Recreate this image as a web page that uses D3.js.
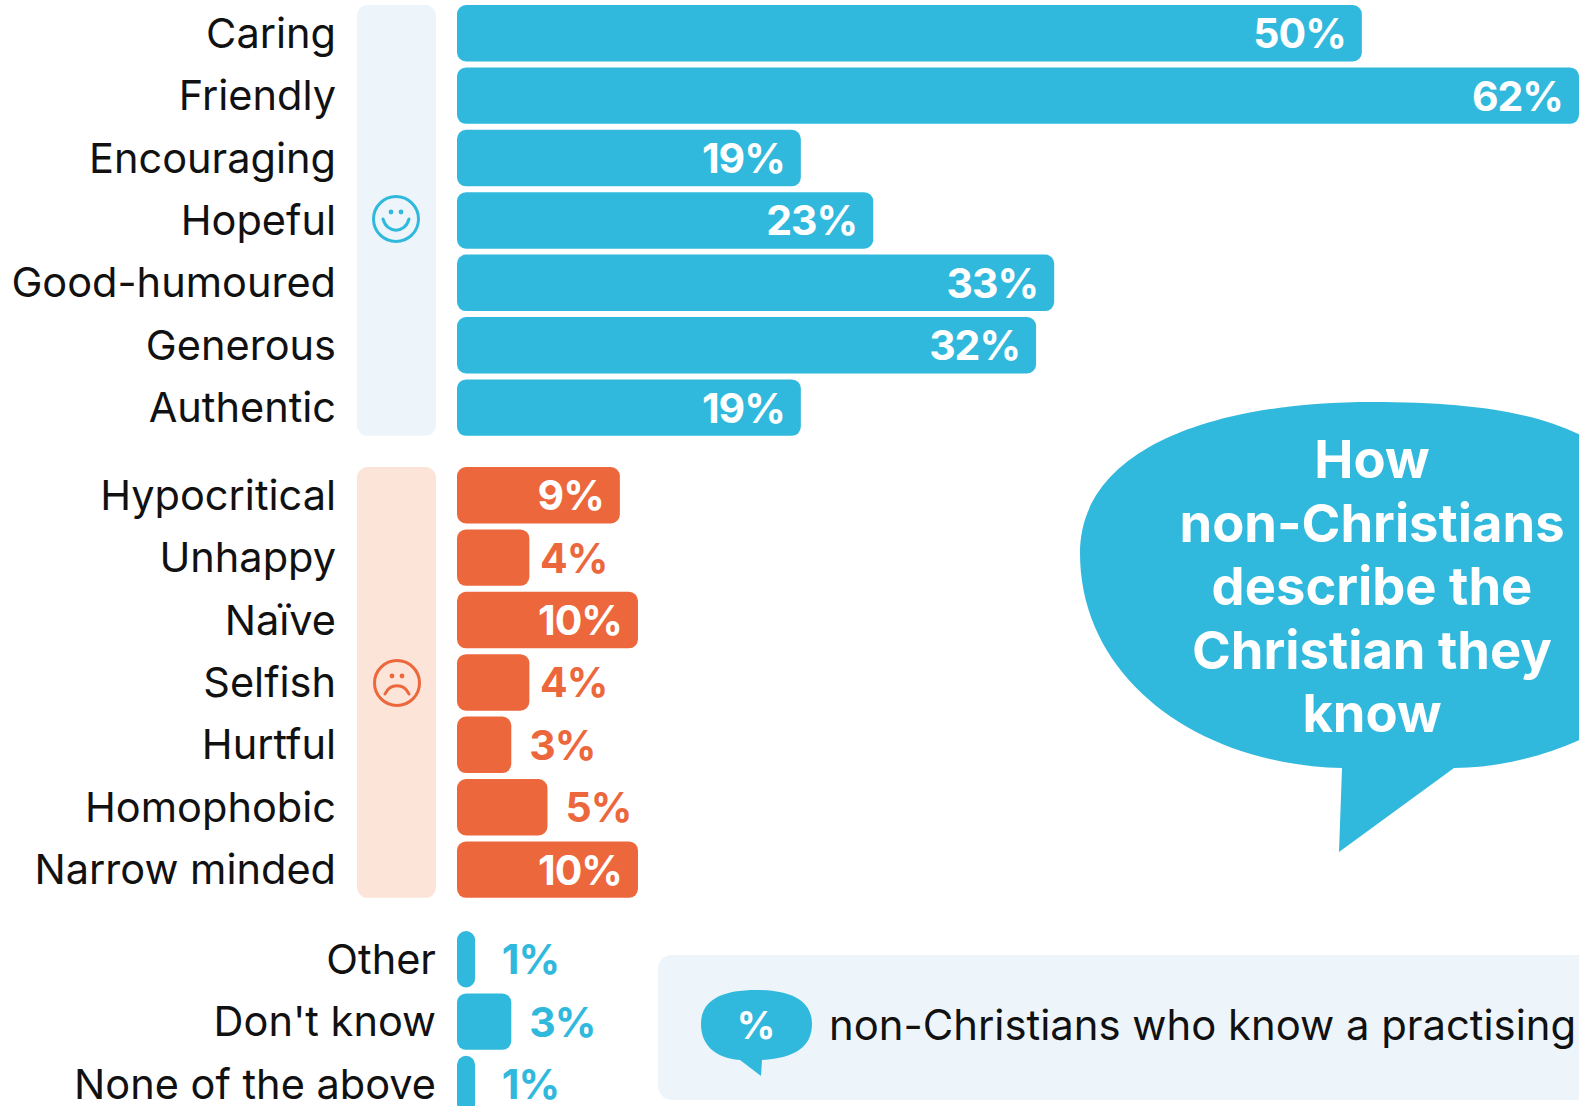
<!DOCTYPE html>
<html>
<head>
<meta charset="utf-8">
<script src="https://cdn.jsdelivr.net/npm/d3@7"></script>
<style>
    html, body { margin: 0; padding: 0; background: #fff; overflow: hidden; }
    svg { display: block; font-family: Inter, "Noto Sans", sans-serif; }
</style>
</head>
<body>
<svg id="chart" width="1579" height="1106"></svg>
<script>
const positiveLabels = ["Caring", "Friendly", "Encouraging", "Hopeful", "Good-humoured", "Generous", "Authentic"];
const positiveValues = [50, 62, 19, 23, 33, 32, 19];
const negativeLabels = ["Hypocritical", "Unhappy", "Naïve", "Selfish", "Hurtful", "Homophobic", "Narrow minded"];
const negativeValues = [9, 4, 10, 4, 3, 5, 10];
const otherLabels = ["Other", "Don't know", "None of the above"];
const otherValues = [1, 3, 1];
const titleLines = ["How", "non-Christians", "describe the", "Christian they", "know"];
const legendText = "non-Christians who know a practising";

const blue = "#31b9dd";
const orange = "#ec673c";

const svg = d3.select("#chart");

// value scale, 0 sits at the left edge of the bars
const x = d3.scaleLinear().domain([0, 62]).range([457, 1579]);

function band(labels, top) {
    const step = 62.4;
    const pad = 0.095;
    return d3.scaleBand().domain(labels)
        .range([top, top + step * (labels.length - pad)])
        .paddingInner(pad)
        .paddingOuter(0);
}

const yPositive = band(positiveLabels, 5);
const yNegative = band(negativeLabels, 467);
const yOther = band(otherLabels, 931);

function drawGroup(labels, values, y, color, labelX, insideFrom) {
    const data = labels.map((d, i) => ({ label: d, value: values[i] }));
    const g = svg.append("g");

    g.selectAll(".bar")
        .data(data)
        .enter().append("rect")
        .attr("class", "bar")
        .attr("x", x(0))
        .attr("y", d => y(d.label))
        .attr("width", d => x(d.value) - x(0))
        .attr("height", y.bandwidth())
        .attr("rx", d => Math.min(9, (x(d.value) - x(0)) / 2))
        .attr("fill", color);

    g.selectAll(".name")
        .data(data)
        .enter().append("text")
        .attr("class", "name")
        .attr("x", labelX)
        .attr("y", d => y(d.label) + y.bandwidth() / 2 + 14.5)
        .attr("text-anchor", "end")
        .attr("font-size", 41.5)
        .attr("fill", "#111")
        .text(d => d.label);

    // inside labels hang off the bar end, outside ones line up on their right edge
    g.selectAll(".value")
        .data(data)
        .enter().append("text")
        .attr("class", "value")
        .attr("x", d => d.value >= insideFrom ? x(d.value) - 16 : x(d.value) + (d.value === 4 ? 78 : 84))
        .attr("y", d => y(d.label) + y.bandwidth() / 2 + 15)
        .attr("text-anchor", "end")
        .attr("font-size", 41)
        .attr("font-weight", 700)
        .attr("letter-spacing", -1)
        .attr("fill", d => d.value >= insideFrom ? "#fff" : color)
        .text(d => d.value + "%");
}

function drawPanel(y, labels, fill) {
    svg.append("rect")
        .attr("x", 357)
        .attr("y", y(labels[0]))
        .attr("width", 79)
        .attr("height", y(labels[labels.length - 1]) + y.bandwidth() - y(labels[0]))
        .attr("rx", 11)
        .attr("fill", fill);
}

function drawFace(cx, cy, color, happy) {
    const g = svg.append("g").attr("transform", `translate(${cx},${cy})`)
        .attr("fill", "none").attr("stroke", color).attr("stroke-width", 3);
    g.append("circle").attr("r", 22.5);
    g.append("path").attr("stroke-linecap", "round")
        .attr("d", happy ? "M-13 0 C-9 15 9 15 13 0" : "M-12 11 C-7 0 7 0 12 11");
    [-5, 5].forEach(dx => {
        g.append("circle").attr("cx", dx).attr("cy", -7).attr("r", 2.4)
            .attr("fill", color).attr("stroke", "none");
    });
}

drawPanel(yPositive, positiveLabels, "#edf5fb");
drawPanel(yNegative, negativeLabels, "#fce4d8");
drawFace(396, 219, blue, true);
drawFace(397, 683, orange, false);

drawGroup(positiveLabels, positiveValues, yPositive, blue, 336, 6);
drawGroup(negativeLabels, negativeValues, yNegative, orange, 336, 6);
drawGroup(otherLabels, otherValues, yOther, blue, 436, 6);

// big speech bubble with the title
svg.append("path")
    .attr("fill", blue)
    .attr("d", "M1342 768 C1200 765 1080 680 1080 553 C1080 450 1210 402 1372 402 C1470 402 1540 412 1590 440 L1590 735 C1550 755 1500 768 1454 768 L1339 852 Z");

svg.append("g").selectAll("text")
    .data(titleLines)
    .enter().append("text")
    .attr("x", 1372)
    .attr("y", (d, i) => 478 + i * 63.5)
    .attr("text-anchor", "middle")
    .attr("font-size", 52.5)
    .attr("font-weight", 700)
    .attr("fill", "#fff")
    .text(d => d);

// legend strip
svg.append("rect")
    .attr("x", 658).attr("y", 955)
    .attr("width", 940).attr("height", 145)
    .attr("rx", 14)
    .attr("fill", "#edf5fb");

svg.append("path")
    .attr("fill", blue)
    .attr("d", "M740 1060 C715 1058 701 1045 701 1024 C701 1000 722 990 756 990 C790 990 812 1000 812 1024 C812 1046 796 1058 762 1060 L761 1076 Z");

svg.append("text")
    .attr("x", 756).attr("y", 1039)
    .attr("text-anchor", "middle")
    .attr("font-size", 38)
    .attr("font-weight", 700)
    .attr("fill", "#fff")
    .text("%");

svg.append("text")
    .attr("x", 829).attr("y", 1040)
    .attr("font-size", 41.8)
    .attr("fill", "#111")
    .text(legendText);
</script>
</body>
</html>
